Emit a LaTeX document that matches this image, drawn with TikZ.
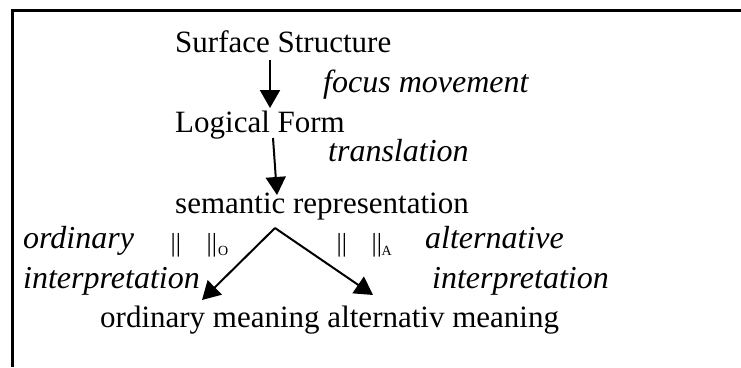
\documentclass[tikz,border=0pt]{standalone}
\usepackage{fontspec}
\setmainfont{Liberation Serif}
\usetikzlibrary{arrows.meta}
\begin{document}
\begin{tikzpicture}[x=1pt,y=-1pt,
  lbl/.style={anchor=base west,inner sep=0pt,font=\fontsize{31}{31}\selectfont},
  ilbl/.style={anchor=base west,inner sep=0pt,font=\fontsize{32}{32}\selectfont\itshape},
  barsym/.style={anchor=base west,inner sep=0pt,font=\fontsize{26}{26}\selectfont},
  subsym/.style={anchor=base west,inner sep=0pt,font=\fontsize{14}{14}\selectfont},
  arr/.style={line width=2pt,-{Triangle[length=18pt,width=20pt]}},
  frame/.style={line width=2.5pt,line join=miter}]
\useasboundingbox (0,0) rectangle (741,367);
% frame (top and left only)
\coordinate (fbl) at (12.5,367);
\coordinate (ftl) at (12.5,10.5);
\coordinate (ftr) at (741,10.5);
\draw[frame] (fbl) -- (ftl) -- (ftr);
% labels
\node[lbl]  (ss)   at (175,52)  {Surface Structure};
\node[ilbl] (fm)   at (323,92)  {focus movement};
\node[lbl]  (lf)   at (175,132) {Logical Form};
\node[ilbl] (tr)   at (328,161) {translation};
\node[lbl]  (sr)   at (175,213) {semantic representation};
\node[ilbl] (ord)  at (23,248)  {ordinary};
\node[ilbl] (int1) at (23,288)  {interpretation};
\node[ilbl] (alt)  at (425,248) {alternative};
\node[ilbl] (int2) at (432,288) {interpretation};
\node[lbl]  (mean) at (100,327) {ordinary meaning alternativ meaning};
% norm bars
\node[barsym] (b1) at (170.5,251) {||};
\node[barsym] (b2) at (206.5,251) {||};
\node[subsym] (so) at (218,255) {O};
\node[barsym] (b3) at (336.5,251) {||};
\node[barsym] (b4) at (371.5,251) {||};
\node[subsym] (sa) at (381.5,255) {A};
% arrows
\coordinate (a1s) at (270,60);
\coordinate (a1e) at (270,108);
\coordinate (a2s) at (273,138);
\coordinate (a2e) at (277,195);
\coordinate (peak) at (275,228);
\coordinate (lt) at (202,300);
\coordinate (rt) at (373,295);
\draw[arr] (a1s) -- (a1e);
\draw[arr] (a2s) -- (a2e);
\draw[arr] (peak) -- (lt);
\draw[arr] (peak) -- (rt);
\end{tikzpicture}
\end{document}
